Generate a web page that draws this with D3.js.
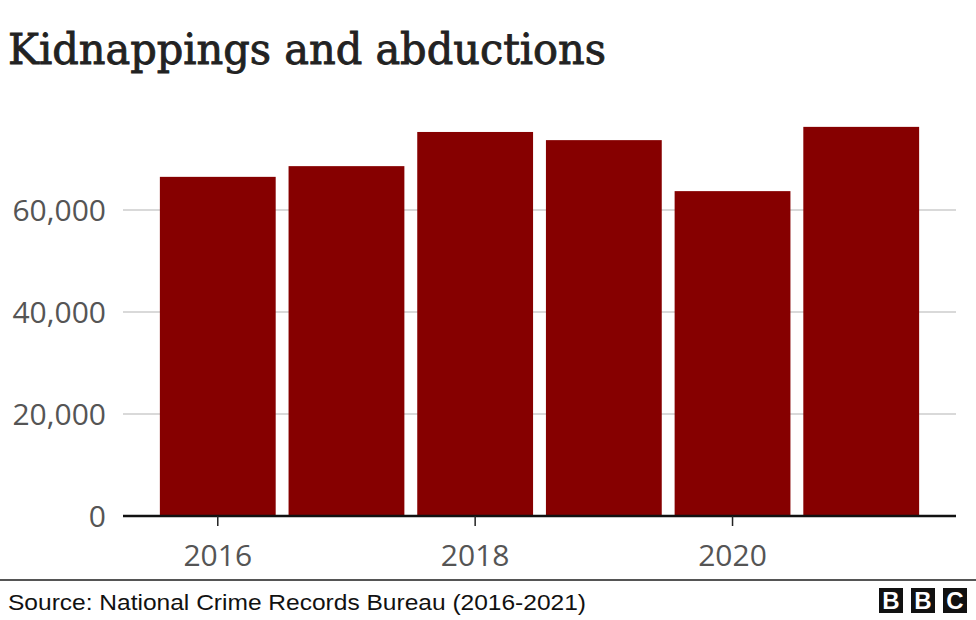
<!DOCTYPE html>
<html>
<head>
<meta charset="utf-8">
<script src="https://cdn.jsdelivr.net/npm/d3@7"></script>
<style>
html,body{margin:0;padding:0;background:#fff;}
svg{display:block;}
</style>
</head>
<body>
<svg id="chart" width="976" height="620"></svg>
<script>
const title = "Kidnappings and abductions";
const source = "Source: National Crime Records Bureau (2016-2021)";
const years = [2016, 2017, 2018, 2019, 2020, 2021];
const cases = [66500, 68600, 75300, 73700, 63700, 76300];
const yTicks = [0, 20000, 40000, 60000];
const xTickYears = [2016, 2018, 2020];

const svg = d3.select("#chart");
const W = 976, H = 620;
const axisLeft = 123, axisRight = 956;

const x = d3.scaleBand().domain(years).range([147, 932]).paddingInner(0.1).paddingOuter(0.1);
const y = d3.scaleLinear().domain([0, 80000]).range([516, 108]);

// title
const t = svg.append("text").attr("x", 8).attr("y", 64)
  .attr("font-family", "'DejaVu Serif Condensed', 'DejaVu Serif', serif").attr("font-size", 43)
  .attr("fill", "#222").attr("stroke", "#222").attr("stroke-width", 0.8)
  .attr("paint-order", "stroke").text(title);
const tl = t.node().getComputedTextLength();
if (Math.abs(tl - 598) > 4) t.attr("textLength", 598).attr("lengthAdjust", "spacingAndGlyphs");

// gridlines
svg.append("g").selectAll("line").data(yTicks.filter(d => d > 0)).join("line")
  .attr("x1", axisLeft).attr("x2", axisRight)
  .attr("y1", d => y(d)).attr("y2", d => y(d))
  .attr("stroke", "#cccccc").attr("stroke-width", 1.5);

// y labels
svg.append("g").selectAll("text").data(yTicks).join("text")
  .attr("x", 106).attr("y", d => y(d)).attr("dy", "0.36em")
  .attr("text-anchor", "end")
  .attr("font-family", "'Open Sans', sans-serif").attr("font-size", 30)
  .attr("fill", "#555555")
  .text(d => d3.format(",")(d));

// bars
svg.append("g").selectAll("rect").data(years).join("rect")
  .attr("x", d => x(d)).attr("width", x.bandwidth())
  .attr("y", (d, i) => y(cases[i])).attr("height", (d, i) => y(0) - y(cases[i]))
  .attr("fill", "#860000");

// x axis line
svg.append("line").attr("x1", axisLeft).attr("x2", axisRight)
  .attr("y1", y(0)).attr("y2", y(0)).attr("stroke", "#111").attr("stroke-width", 2.5);

// x ticks
const xt = svg.append("g").selectAll("g").data(xTickYears).join("g")
  .attr("transform", d => `translate(${x(d) + x.bandwidth() / 2},0)`);
xt.append("line").attr("y1", y(0)).attr("y2", y(0) + 10).attr("stroke", "#222").attr("stroke-width", 1.5);
xt.append("text").attr("y", 566).attr("text-anchor", "middle")
  .attr("font-family", "'Open Sans', sans-serif").attr("font-size", 30)
  .attr("fill", "#555555").text(d => d);

// footer rule
svg.append("line").attr("x1", 0).attr("x2", W).attr("y1", 580).attr("y2", 580)
  .attr("stroke", "#555").attr("stroke-width", 2);

// source
const s = svg.append("text").attr("x", 8).attr("y", 610)
  .attr("font-family", "'Liberation Sans', Arial, sans-serif").attr("font-size", 22)
  .attr("fill", "#111").text(source);
const sl = s.node().getComputedTextLength();
if (Math.abs(sl - 578) > 4) s.attr("textLength", 578).attr("lengthAdjust", "spacingAndGlyphs");

// BBC logo
const logo = svg.append("g");
["B", "B", "C"].forEach((ch, i) => {
  logo.append("rect").attr("x", 879 + i * 32).attr("y", 588).attr("width", 24).attr("height", 25).attr("fill", "#111");
  logo.append("text").attr("x", 879 + i * 32 + 12).attr("y", 609).attr("text-anchor", "middle")
    .attr("font-family", "'Liberation Sans', Arial, sans-serif").attr("font-weight", "bold")
    .attr("font-size", 24).attr("fill", "#fff").text(ch);
});
</script>
</body>
</html>
